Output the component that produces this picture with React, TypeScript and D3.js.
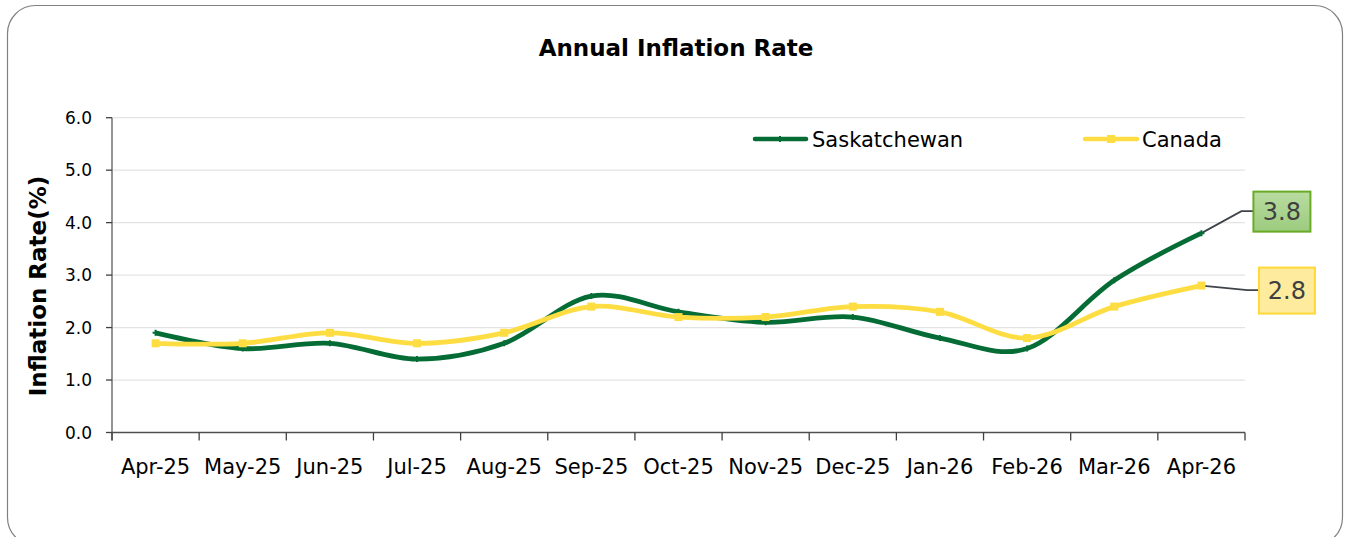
import React from 'react';
import * as d3 from 'd3';

const categories = ['Apr-25', 'May-25', 'Jun-25', 'Jul-25', 'Aug-25', 'Sep-25', 'Oct-25', 'Nov-25', 'Dec-25', 'Jan-26', 'Feb-26', 'Mar-26', 'Apr-26'];
const saskatchewan = [1.9, 1.6, 1.7, 1.4, 1.7, 2.6, 2.3, 2.1, 2.2, 1.8, 1.6, 2.9, 3.8];
const canada = [1.7, 1.7, 1.9, 1.7, 1.9, 2.4, 2.2, 2.2, 2.4, 2.3, 1.8, 2.4, 2.8];
const yTicks = [0, 1, 2, 3, 4, 5, 6];
const seriesNames = ['Saskatchewan', 'Canada'];

const W = 1347;
const H = 537;
const FONT = '"DejaVu Sans", sans-serif';
const GREEN = '#056c36';
const YELLOW = '#fddd41';

export default function App() {
  const x = d3.scaleBand<string>().domain(categories).range([112, 1245]).padding(0);
  const y = d3.scaleLinear().domain([0, 6]).range([432.5, 117.7]);
  const bw = x.bandwidth();
  const cx = (c: string) => (x(c) as number) + bw / 2;

  const line = d3
    .line<number>()
    .x((_, i) => cx(categories[i]))
    .y((d) => y(d))
    .curve(d3.curveCardinal.tension(0));

  const boundaries = d3.range(categories.length + 1).map((i) => 112 + i * bw);

  const n = categories.length - 1;
  const skX = cx(categories[n]);
  const skY = y(saskatchewan[n]);
  const caX = cx(categories[n]);
  const caY = y(canada[n]);

  return (
    <svg width={W} height={H} style={{ position: 'absolute', left: 0, top: 0, background: '#fff' }} fontFamily={FONT}>
      <defs>
        <linearGradient id="gbox" x1="0" y1="0" x2="0" y2="1">
          <stop offset="0" stopColor="#b9dca1" />
          <stop offset="1" stopColor="#9ccb7e" />
        </linearGradient>
      </defs>
      <rect x={7.5} y={5.5} width={1335} height={540} rx={28} fill="#fff" stroke="#808080" strokeWidth={1.2} />

      <text x={676} y={56} textAnchor="middle" fontWeight="bold" fontSize={23} fill="#000">
        Annual Inflation Rate
      </text>

      {/* gridlines */}
      {yTicks.slice(1).map((t) => (
        <line key={t} x1={112} x2={1245} y1={y(t)} y2={y(t)} stroke="#e3e3e3" strokeWidth={1.3} />
      ))}

      {/* y axis */}
      <line x1={112} x2={112} y1={y(6)} y2={y(0) + 8} stroke="#707070" strokeWidth={1.5} />
      {yTicks.map((t) => (
        <g key={t}>
          <line x1={106} x2={112} y1={y(t)} y2={y(t)} stroke="#404040" strokeWidth={1.3} />
          <text x={92} y={y(t)} dy="0.36em" textAnchor="end" fontSize={17} fill="#000">
            {t.toFixed(1)}
          </text>
        </g>
      ))}

      {/* x axis */}
      <line x1={112} x2={1245} y1={y(0)} y2={y(0)} stroke="#505050" strokeWidth={1.5} />
      {boundaries.map((b, i) => (
        <line key={i} x1={b} x2={b} y1={y(0)} y2={y(0) + 8} stroke="#404040" strokeWidth={1.3} />
      ))}
      {categories.map((c) => (
        <text key={c} x={cx(c)} y={474} textAnchor="middle" fontSize={21} fill="#000">
          {c}
        </text>
      ))}

      <text transform={`translate(46,286) rotate(-90)`} textAnchor="middle" fontWeight="bold" fontSize={23} fill="#000">
        Inflation Rate(%)
      </text>

      {/* leader lines */}
      <polyline points={`${skX},${skY} ${skX + 40},${skY - 22} ${skX + 52},${skY - 22}`} fill="none" stroke="#3f434a" strokeWidth={1.8} />
      <polyline points={`${caX},${caY} ${caX + 46},${caY + 4.5} ${caX + 57},${caY + 4.5}`} fill="none" stroke="#3f434a" strokeWidth={1.8} />

      {/* series */}
      <path d={line(saskatchewan) || ''} fill="none" stroke={GREEN} strokeWidth={4.8} />
      {saskatchewan.map((v, i) => (
        <path key={i} d={`M${cx(categories[i]) - 3},${y(v)}h6M${cx(categories[i])},${y(v) - 3}v6`} stroke={GREEN} strokeWidth={2} />
      ))}
      <path d={line(canada) || ''} fill="none" stroke={YELLOW} strokeWidth={4.8} />
      {canada.map((v, i) => (
        <rect key={i} x={cx(categories[i]) - 4} y={y(v) - 4} width={8} height={8} fill={YELLOW} />
      ))}

      {/* data labels */}
      <rect x={skX + 52} y={skY - 41.5} width={57} height={40} fill="url(#gbox)" stroke="#6aab26" strokeWidth={2} />
      <text x={skX + 80.5} y={skY - 21.5} dy="0.36em" textAnchor="middle" fontSize={24} fill="#404040">
        {saskatchewan[n].toFixed(1)}
      </text>
      <rect x={caX + 57.5} y={caY - 18} width={56} height={46} fill="#ffeb9d" stroke="#ffd938" strokeWidth={2} />
      <text x={caX + 85.5} y={caY + 5} dy="0.36em" textAnchor="middle" fontSize={24} fill="#404040">
        {canada[n].toFixed(1)}
      </text>

      {/* legend */}
      <line x1={755} x2={806} y1={139} y2={139} stroke={GREEN} strokeWidth={4.5} strokeLinecap="round" />
      <path d="M780,136v6" stroke={GREEN} strokeWidth={2} />
      <text x={812} y={139} dy="0.36em" fontSize={21} fill="#000">
        {seriesNames[0]}
      </text>
      <line x1={1085} x2={1137} y1={139} y2={139} stroke={YELLOW} strokeWidth={4.5} strokeLinecap="round" />
      <rect x={1107} y={135} width={8} height={8} fill={YELLOW} />
      <text x={1142} y={139} dy="0.36em" fontSize={21} fill="#000">
        {seriesNames[1]}
      </text>
    </svg>
  );
}
